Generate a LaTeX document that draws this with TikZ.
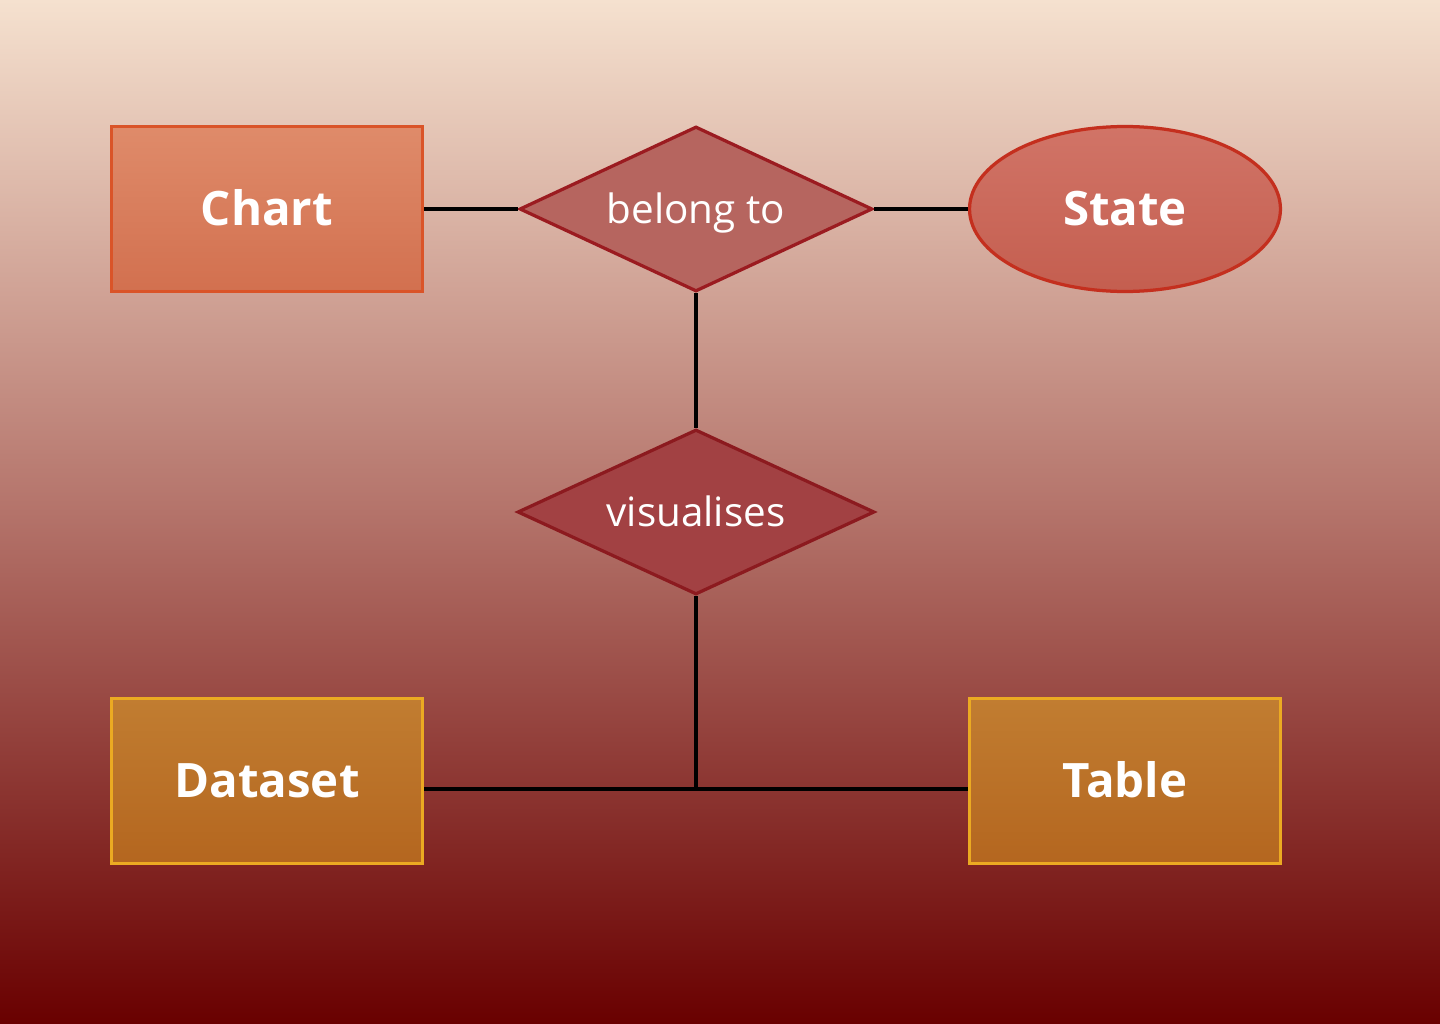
\documentclass[tikz,border=0pt]{standalone}
\usepackage{fontspec}
\setmainfont{Open Sans}
\usetikzlibrary{shapes.geometric}

\definecolor{bgtop}{HTML}{F5E1CF}
\definecolor{bgmid}{HTML}{B4736A}
\definecolor{bgbot}{HTML}{690000}
\definecolor{charttop}{HTML}{DF8B6A}
\definecolor{chartbot}{HTML}{D2704F}
\definecolor{chartline}{HTML}{DA5428}
\definecolor{reltop}{HTML}{B6655F}
\definecolor{relline}{HTML}{9B1B20}
\definecolor{visfill}{HTML}{A24143}
\definecolor{visline}{HTML}{8C1A1F}
\definecolor{statetop}{HTML}{D17467}
\definecolor{statebot}{HTML}{C45E4F}
\definecolor{stateline}{HTML}{C42F1E}
\definecolor{datatop}{HTML}{C17D31}
\definecolor{databot}{HTML}{B4661F}
\definecolor{dataline}{HTML}{EBAA22}

\begin{document}
\begin{tikzpicture}[x=0.02cm, y=-0.02cm]
        \tikzstyle{every node}=[text=white, line width=0.065cm, inner sep=0pt, text depth=0pt]
        \tikzstyle{entity}=[rectangle, draw, minimum width=6.22cm, minimum height=3.3cm, text height=19pt, font=\fontsize{27}{32}\selectfont\bfseries]
        \tikzstyle{relation}=[diamond, draw, aspect=2.12, minimum height=3.3cm, text height=17pt, font=\fontsize{23}{27}\selectfont]
        \tikzstyle{attribute}=[ellipse, draw, minimum width=6.22cm, minimum height=3.3cm, text height=19pt, font=\fontsize{27}{32}\selectfont\bfseries]
        \tikzstyle{edge}=[black, line width=0.065cm]

        % background
        \shade[top color=bgtop, bottom color=bgmid] (0,0) rectangle (1440,512);
        \shade[top color=bgmid, bottom color=bgbot] (0,512) rectangle (1440,1024);
        \useasboundingbox (0,0) rectangle (1440,1024);

        \node[entity, draw=chartline, top color=charttop, bottom color=chartbot] (chart) at (267,209) {Chart};
        \node[relation, draw=relline, fill=reltop, minimum width=7.06cm] (belong) at (696,209) {belong to};
        \node[attribute, draw=stateline, top color=statetop, bottom color=statebot] (state) at (1125,209) {State};
        \node[relation, draw=visline, fill=visfill, minimum width=7.14cm] (vis) at (696,512) {visualises};
        \node[entity, draw=dataline, top color=datatop, bottom color=databot] (dataset) at (267,781) {Dataset};
        \node[entity, draw=dataline, top color=datatop, bottom color=databot] (table) at (1125,781) {Table};
        \coordinate (join) at (696,789);

        \draw[edge] (chart) -- (belong);
        \draw[edge] (belong) -- (state);
        \draw[edge] (belong) -- (vis);
        \draw[edge] (vis) -- (join);
        \draw[edge] (dataset.east |- join) -- (table.west |- join);
    \end{tikzpicture}
\end{document}
